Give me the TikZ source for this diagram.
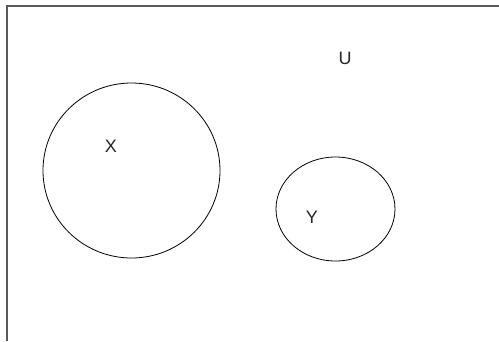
\documentclass[tikz,border=0pt]{standalone}
\usepackage{fontspec}
\setmainfont{Liberation Sans}
\begin{document}
\begin{tikzpicture}[x=1pt,y=-1pt,
  frame/.style={draw=black!65,line width=2pt},
  setshape/.style={draw=black,line width=0.8pt},
  lab/.style={font=\fontsize{18}{21}\selectfont,text=black!85}]
\useasboundingbox (0,0) rectangle (499,341);
\fill[white] (0,0) rectangle (499,341);
\coordinate (fbl) at (7,341);
\coordinate (ftl) at (7,6);
\coordinate (ftr) at (499,6);
\draw[frame] (fbl) -- (ftl) -- (ftr);
\draw[setshape] (131.5,170.5) ellipse [x radius=88.5, y radius=87.5];
\draw[setshape] (335.5,209) ellipse [x radius=59.5, y radius=52];
\node[lab] (U) at (345,58) {U};
\node[lab] (X) at (111,146) {X};
\node[lab] (Y) at (312,217) {Y};
\end{tikzpicture}
\end{document}
